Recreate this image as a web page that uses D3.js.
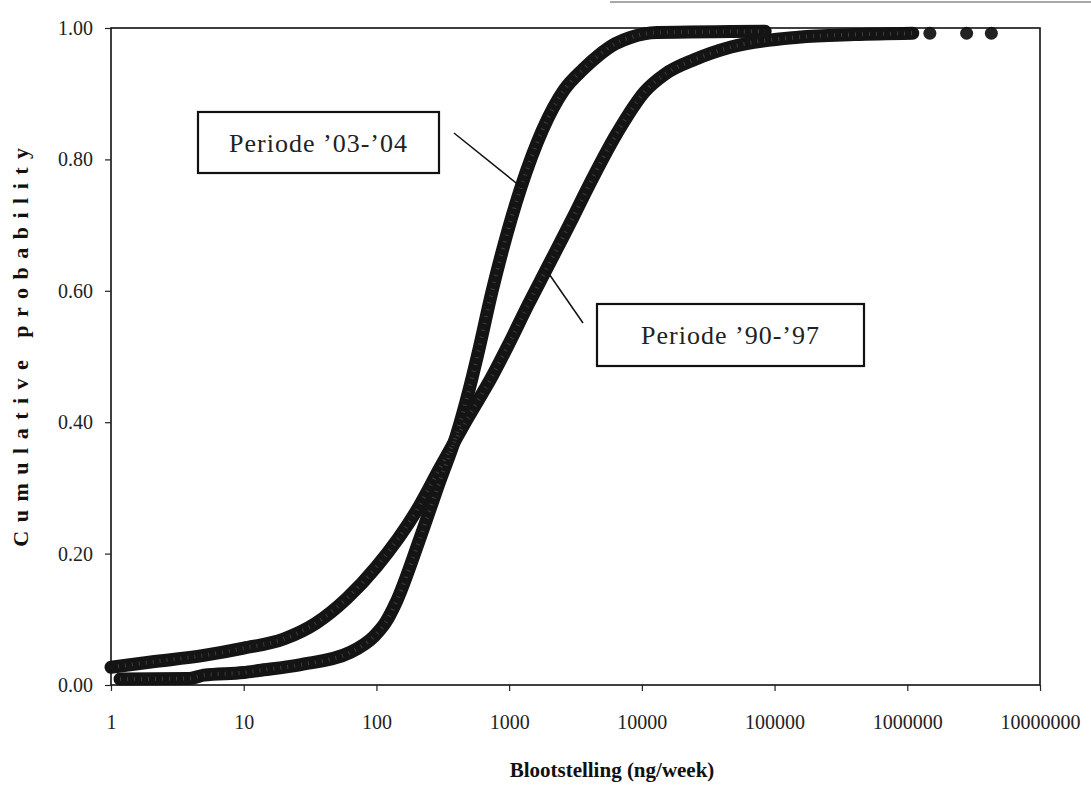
<!DOCTYPE html>
<html>
<head>
<meta charset="utf-8">
<script src="https://cdn.jsdelivr.net/npm/d3@7"></script>
<style>
  body { margin: 0; background: #fff; }
  text { font-family: "Liberation Serif", "DejaVu Serif", serif; }
</style>
</head>
<body>
<div id="chart"></div>
<script>
// axis ticks
const xTicks = [1, 10, 100, 1000, 10000, 100000, 1000000, 10000000];
const yTicks = [0, 0.2, 0.4, 0.6, 0.8, 1.0];

// Periode '03-'04 (steep curve)
const p0304X = [1.17, 3.9, 5, 10, 13, 27, 64, 97, 117, 140, 210, 300, 400, 500, 575, 745, 1230, 2600, 3600, 4700, 6300, 8300, 13000, 85000];
const p0304P = [0.009, 0.010, 0.015, 0.019, 0.022, 0.031, 0.050, 0.075, 0.095, 0.125, 0.22, 0.31, 0.38, 0.45, 0.50, 0.60, 0.758, 0.906, 0.937, 0.958, 0.976, 0.986, 0.993, 0.995];

// Periode '90-'97 (wide curve)
const p9097X = [1, 2, 5, 10, 20, 35, 60, 100, 200, 300, 500, 745, 1000, 1400, 1900, 3000, 3870, 6500, 10500, 15000, 25000, 47000, 151000, 400000, 1100000];
const p9097P = [0.027, 0.035, 0.045, 0.056, 0.07, 0.094, 0.132, 0.18, 0.265, 0.33, 0.41, 0.47, 0.52, 0.58, 0.632, 0.71, 0.755, 0.84, 0.903, 0.93, 0.952, 0.971, 0.986, 0.99, 0.992];
// loose points at the far end of '90-'97
const p9097TailX = [1480000, 2800000, 4300000];
const p9097TailP = [0.992, 0.992, 0.992];

const xTitle = "Blootstelling (ng/week)";
const yTitle = "Cumulative probability";
const labels = ["Periode \u201903-\u201904", "Periode \u201990-\u201997"];

const W = 1091, H = 793;
const svg = d3.select("#chart").append("svg")
  .attr("width", W).attr("height", H);

svg.append("rect").attr("width", W).attr("height", H).attr("fill", "#fff");

const x = d3.scaleLog().domain([1, 1e7]).range([111, 1040]);
const y = d3.scaleLinear().domain([0, 1]).range([685, 28]);

// scan edge line at the top
svg.append("line")
  .attr("x1", 610).attr("x2", W).attr("y1", 2).attr("y2", 2)
  .attr("stroke", "#555").attr("stroke-width", 1);

// curves
const line = d3.line()
  .x(d => x(d[0]))
  .y(d => y(d[1]))
  .curve(d3.curveMonotoneX);

const series = [
  d3.zip(p9097X, p9097P),
  d3.zip(p0304X, p0304P)
];

svg.selectAll("path.curve")
  .data(series)
  .enter()
  .append("path")
  .attr("class", "curve")
  .attr("d", line)
  .attr("fill", "none")
  .attr("stroke", "#141414")
  .attr("stroke-width", 13)
  .attr("stroke-linecap", "round")
  .attr("stroke-linejoin", "round");

// a bit of grey speckle like the printed markers
svg.selectAll("path.speckle")
  .data(series)
  .enter()
  .append("path")
  .attr("class", "speckle")
  .attr("d", line)
  .attr("fill", "none")
  .attr("stroke", "#8a8a8a")
  .attr("stroke-width", 4)
  .attr("stroke-dasharray", "1 6")
  .attr("opacity", 0.35);

svg.selectAll("circle.tail")
  .data(d3.zip(p9097TailX, p9097TailP))
  .enter()
  .append("circle")
  .attr("class", "tail")
  .attr("cx", d => x(d[0]))
  .attr("cy", d => y(d[1]))
  .attr("r", 6.5)
  .attr("fill", "#222");

// plot border
svg.append("rect")
  .attr("x", 111).attr("y", 28)
  .attr("width", 1040 - 111).attr("height", 685 - 28)
  .attr("fill", "none").attr("stroke", "#111").attr("stroke-width", 1.6);

// axes
const xAxis = d3.axisBottom(x)
  .tickValues(xTicks)
  .tickFormat(d3.format("d"))
  .tickSize(6)
  .tickPadding(24);

const yAxis = d3.axisLeft(y)
  .tickValues(yTicks)
  .tickFormat(d3.format(".2f"))
  .tickSize(6)
  .tickPadding(12);

const gx = svg.append("g").attr("transform", "translate(0,685)").call(xAxis);
const gy = svg.append("g").attr("transform", "translate(111,0)").call(yAxis);

[gx, gy].forEach(g => {
  g.select(".domain").remove();
  g.selectAll("line").attr("stroke", "#222").attr("stroke-width", 1.2);
  g.selectAll("text")
    .attr("font-family", "Liberation Serif, serif")
    .attr("font-size", 20)
    .attr("fill", "#222");
});

// titles
svg.append("text")
  .attr("x", 612).attr("y", 777)
  .attr("text-anchor", "middle")
  .attr("font-size", 21).attr("font-weight", "bold")
  .attr("fill", "#111")
  .text(xTitle);

svg.append("text")
  .attr("transform", "translate(28,343) rotate(-90)")
  .attr("text-anchor", "middle")
  .attr("font-size", 22).attr("font-weight", "bold")
  .attr("letter-spacing", 8.5)
  .attr("fill", "#111")
  .text(yTitle);

// annotation boxes with leader lines to the curves
const notes = [
  {label: labels[0], box: [198, 112, 241, 61], from: [454, 133], to: [1230, 0.758]},
  {label: labels[1], box: [597, 304, 267, 62], from: [583, 323], to: [1900, 0.632]}
];

notes.forEach(n => {
  svg.append("line")
    .attr("x1", n.from[0]).attr("y1", n.from[1])
    .attr("x2", x(n.to[0])).attr("y2", y(n.to[1]))
    .attr("stroke", "#111").attr("stroke-width", 1.5);
  svg.append("rect")
    .attr("x", n.box[0]).attr("y", n.box[1])
    .attr("width", n.box[2]).attr("height", n.box[3])
    .attr("fill", "#fff").attr("stroke", "#111").attr("stroke-width", 2.2);
  svg.append("text")
    .attr("x", n.box[0] + n.box[2] / 2)
    .attr("y", n.box[1] + n.box[3] / 2 + 9)
    .attr("text-anchor", "middle")
    .attr("font-size", 26)
    .attr("letter-spacing", 1)
    .attr("fill", "#222")
    .text(n.label);
});
</script>
</body>
</html>
